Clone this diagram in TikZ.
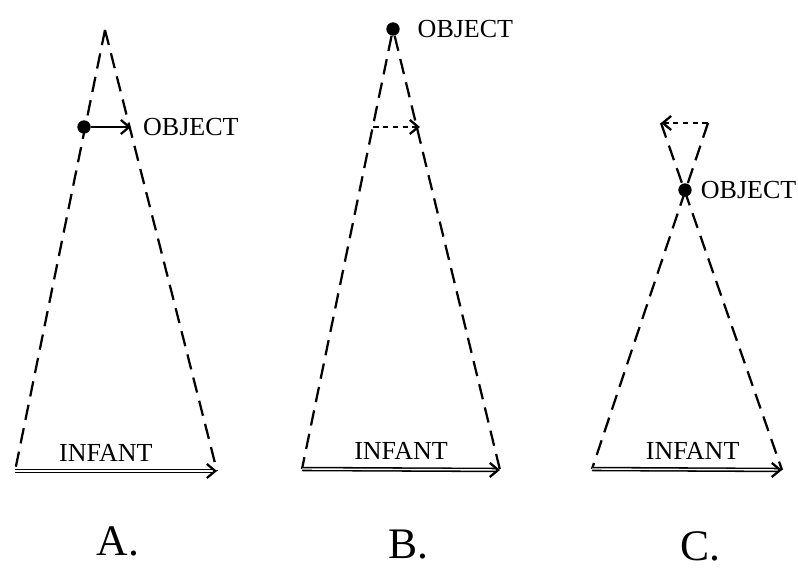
\documentclass[tikz,border=0pt]{standalone}
\usepackage{fontspec}
\setmainfont{Liberation Serif}
\usetikzlibrary{arrows.meta, positioning, calc}

\begin{document}
\begin{tikzpicture}[x=0.025cm, y=-0.025cm,
    >={Straight Barb[length=6pt, width=10pt, line width=1.6pt]},
    sight/.style={dash pattern=on 11pt off 6pt, line width=1.6pt},
    image/.style={->, dash pattern=on 4pt off 3pt, line width=1.6pt},
    infant/.style={->, double, double distance=1.0pt, line width=1.1pt},
    dot/.style={circle, fill, inner sep=0pt, minimum size=9.5pt},
    lbl/.style={font=\fontsize{18.5}{18.5}\selectfont},
    panel/.style={font=\fontsize{31}{31}\selectfont, inner sep=1pt}]

  \useasboundingbox (0,0) rectangle (798,569);

  % A. image between object and infant
  \coordinate (Aapex) at (105,30);
  \coordinate (Aleft) at (15,471);
  \coordinate (Aright) at (217,471);
  \draw[sight] (Aapex) -- (Aleft);
  \draw[sight] (Aapex) -- (Aright);
  \node[dot] (Aobj) at (84,127) {};
  \coordinate (Aimg) at (131,127);
  \draw[->, line width=1.6pt] (Aobj) -- (Aimg);
  \node[lbl, right=0.18cm of Aimg] (Aobjlbl) {OBJECT};
  \draw[infant] (Aleft) -- node[lbl, above=3pt, pos=0.45] (Ainf) {INFANT} (Aright);
  \node[panel] (Apanel) at (118,541) {A.};

  % B. object at the apex
  \node[dot] (Bobj) at (393,29) {};
  \coordinate (Bleft) at (302,469);
  \coordinate (Bright) at (500,470);
  \draw[sight] (Bobj) -- (Bleft);
  \draw[sight] (Bobj) -- (Bright);
  \coordinate (Bimgl) at (373,127);
  \coordinate (Bimgr) at (420,127);
  \draw[image] (Bimgl) -- (Bimgr);
  \node[lbl, right=0.32cm of Bobj] (Bobjlbl) {OBJECT};
  \draw[infant] (Bleft) -- node[lbl, above=3pt] (Binf) {INFANT} (Bright);
  \node[panel] (Bpanel) at (408,545) {B.};

  % C. object beyond the crossing
  \coordinate (Ctopl) at (661,123);
  \coordinate (Ctopr) at (708,123);
  \coordinate (Cleft) at (592,469);
  \coordinate (Cright) at (782,470);
  \draw[sight] (Ctopr) -- (Cleft);
  \draw[sight] (Ctopl) -- (Cright);
  \draw[image] (Ctopr) -- (Ctopl);
  \node[dot] (Cobj) at (685,190) {};
  \node[lbl, right=0.1cm of Cobj] (Cobjlbl) {OBJECT};
  \draw[infant] (Cleft) -- node[lbl, above=3pt, pos=0.53] (Cinf) {INFANT} (Cright);
  \node[panel] (Cpanel) at (700,546) {C.};

\end{tikzpicture}
\end{document}
